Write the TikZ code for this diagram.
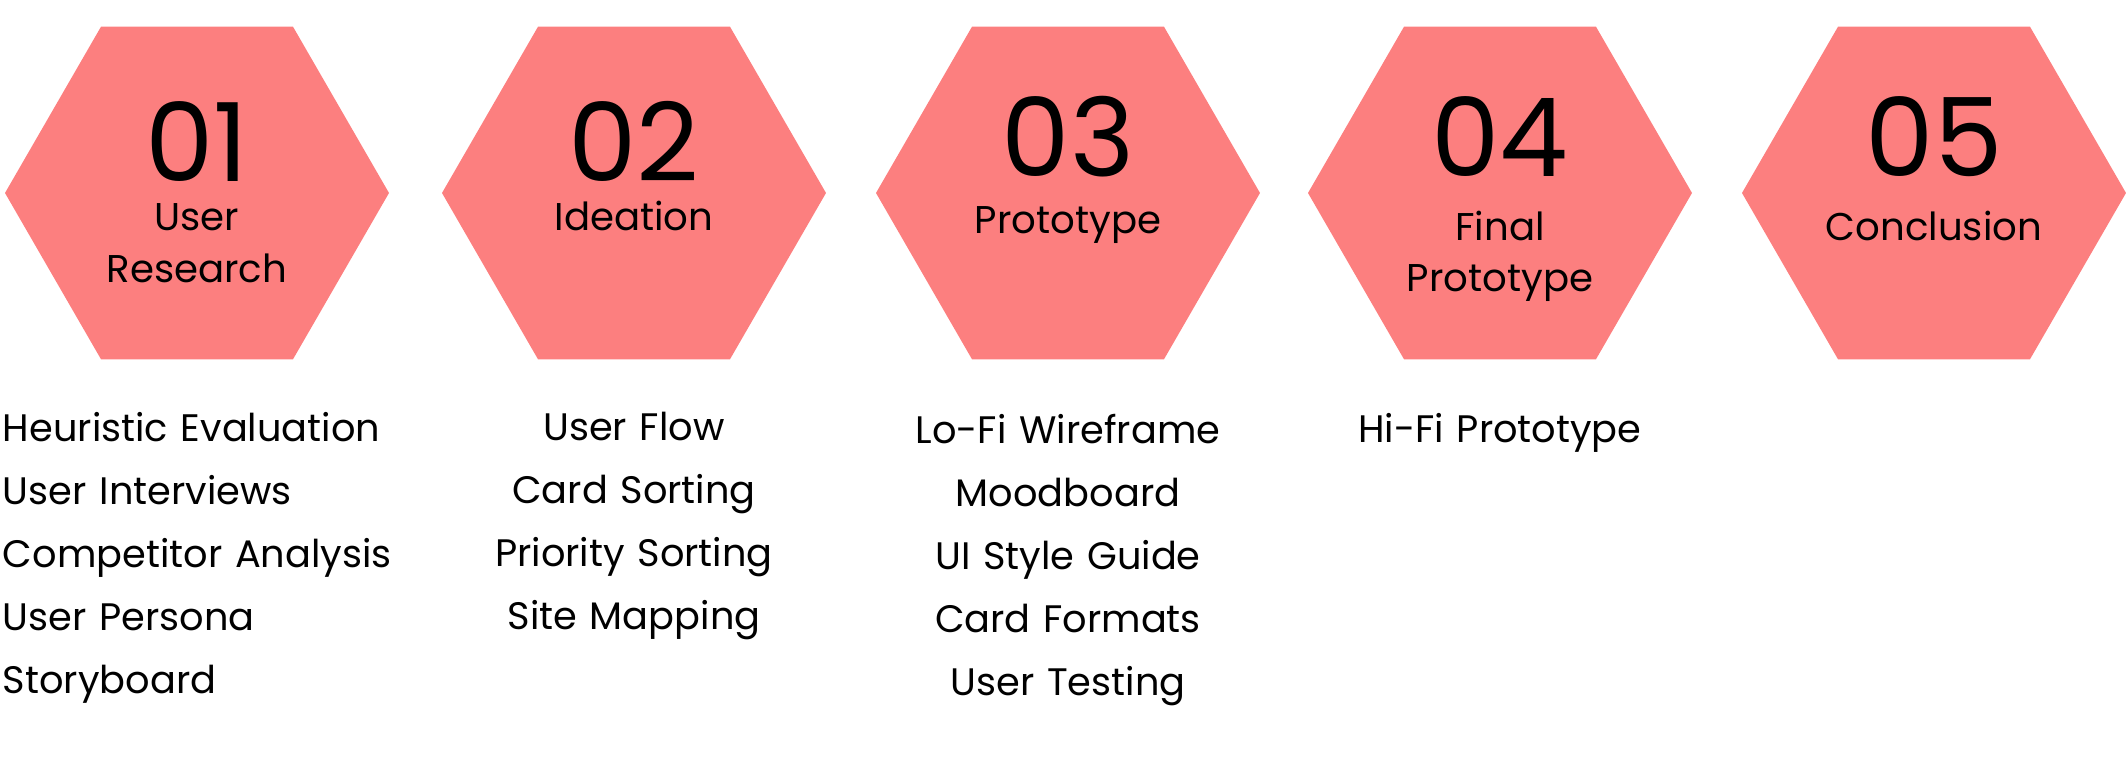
\documentclass[tikz,border=0pt]{standalone}
\usepackage{fontspec}
\setmainfont{Poppins}
\usepackage{tikz}
\usetikzlibrary{shapes.geometric,positioning}
\definecolor{hexpink}{HTML}{FC7F7F}

\begin{document}
\begin{tikzpicture}[node distance=0.63cm,
  hex node/.style={regular polygon,regular polygon sides=6,minimum size=3.84cm,
                   inner sep=0pt,outer sep=0pt,fill=hexpink,draw=none},
  num node/.style={font=\fontsize{31}{31}\selectfont,anchor=base,inner sep=0pt},
  title node/.style={font=\fontsize{11}{11}\selectfont,anchor=base,inner sep=0pt},
  item node/.style={font=\fontsize{10.9}{10.9}\selectfont,inner sep=0pt,
                    text width=4.4cm,align=center,text height=0.29cm,text depth=0.1cm},
  left item/.style={item node,align=left}]
  \useasboundingbox (0,0) rectangle (21.26,7.77);

  % hexagons
  \foreach \n/\x in {1/1.97,2/6.34,3/10.68,4/15.00,5/19.34}
    \node[hex node] (hex\n) at (\x,5.84) {};

  % numbers and titles
  \node[num node] (num1) at (1.97,5.95) {01};
  \node[num node] (num2) at (6.34,5.95) {02};
  \node[num node] (num3) at (10.68,6.00) {03};
  \node[num node] (num4) at (15.00,6.00) {04};
  \node[num node] (num5) at (19.34,6.00) {05};

  \node[title node] (title1a) at (1.97,5.46) {User};
  \node[title node] (title1b) at (1.97,4.94) {Research};
  \node[title node] (title2)  at (6.34,5.46) {Ideation};
  \node[title node] (title3)  at (10.68,5.43) {Prototype};
  \node[title node] (title4a) at (15.00,5.36) {Final};
  \node[title node] (title4b) at (15.00,4.85) {Prototype};
  \node[title node] (title5)  at (19.34,5.36) {Conclusion};

  % steps below each hexagon
  \node[left item] (res1) at (2.23,3.45) {Heuristic Evaluation};
  \node[left item] (res2) [below of=res1] {User Interviews};
  \node[left item] (res3) [below of=res2] {Competitor Analysis};
  \node[left item] (res4) [below of=res3] {User Persona};
  \node[left item] (res5) [below of=res4] {Storyboard};

  \node[item node] (ide1) at (6.34,3.46) {User Flow};
  \node[item node] (ide2) [below of=ide1] {Card Sorting};
  \node[item node] (ide3) [below of=ide2] {Priority Sorting};
  \node[item node] (ide4) [below of=ide3] {Site Mapping};

  \node[item node] (pro1) at (10.68,3.43) {Lo-Fi Wireframe};
  \node[item node] (pro2) [below of=pro1] {Moodboard};
  \node[item node] (pro3) [below of=pro2] {UI Style Guide};
  \node[item node] (pro4) [below of=pro3] {Card Formats};
  \node[item node] (pro5) [below of=pro4] {User Testing};

  \node[item node] (fin1) at (15.00,3.44) {Hi-Fi Prototype};
\end{tikzpicture}
\end{document}
